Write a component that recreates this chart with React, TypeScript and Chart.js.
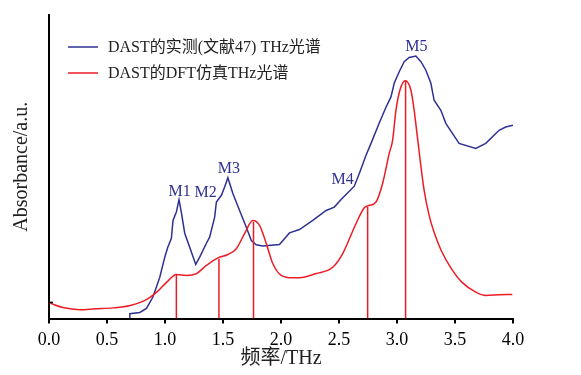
import React, { useEffect, useRef } from "react";
import { Chart, registerables } from "chart.js";

Chart.register(...registerables);

// Measured (literature 47) THz spectrum
const blueX = [0.697, 0.697, 0.783, 0.84, 0.895, 0.955, 0.998, 1.024, 1.055, 1.069, 1.098, 1.121, 1.142, 1.17, 1.213, 1.265, 1.299, 1.357, 1.385, 1.428, 1.443, 1.486, 1.514, 1.542, 1.585, 1.643, 1.701, 1.744, 1.787, 1.843, 1.987, 2.03, 2.073, 2.159, 2.274, 2.389, 2.46, 2.518, 2.632, 2.675, 2.733, 2.776, 2.847, 2.905, 2.948, 2.976, 3.019, 3.062, 3.105, 3.163, 3.206, 3.249, 3.292, 3.32, 3.378, 3.421, 3.478, 3.535, 3.679, 3.765, 3.88, 3.937, 4.0];
const blueY = [0, 1.6, 2.0, 3.3, 7.0, 13.6, 20.2, 23.5, 26.4, 32.3, 35.1, 39.2, 34.7, 28.1, 23.5, 17.8, 20.2, 24.8, 26.8, 33.4, 38.4, 40.6, 43.3, 46.4, 41.2, 35.6, 30.1, 25.7, 24.3, 23.9, 24.4, 26.3, 28.2, 29.3, 32.3, 35.6, 36.7, 39.2, 43.6, 47.8, 53.8, 57.7, 64.4, 69.6, 73.0, 77.5, 81.3, 84.6, 86.0, 86.5, 84.6, 81.8, 77.5, 71.9, 68.6, 64.3, 61.0, 57.7, 56.0, 57.7, 62.0, 63.1, 63.7];

// DFT simulated THz spectrum
const redX = [0, 0.04, 0.12, 0.265, 0.4, 0.55, 0.7, 0.843, 0.943, 1.015, 1.098, 1.185, 1.271, 1.357, 1.456, 1.542, 1.615, 1.686, 1.757, 1.815, 1.873, 1.929, 2.002, 2.101, 2.159, 2.303, 2.446, 2.532, 2.647, 2.718, 2.747, 2.819, 2.876, 2.933, 2.962, 2.991, 3.025, 3.071, 3.12, 3.148, 3.174, 3.2, 3.234, 3.277, 3.329, 3.381, 3.467, 3.561, 3.679, 3.765, 3.88, 3.994];
const redY = [5.3, 4.6, 3.6, 2.9, 3.2, 3.5, 4.3, 6.3, 9.2, 12.0, 14.5, 14.2, 14.8, 17.5, 20.0, 21.1, 23.0, 28.0, 32.3, 30.7, 24.7, 18.1, 14.2, 13.4, 13.4, 14.8, 16.9, 21.4, 31.3, 36.5, 37.1, 38.4, 44.5, 54.4, 58.7, 68.6, 75.2, 78.3, 75.2, 68.6, 60.4, 52.1, 42.2, 34.0, 27.4, 22.4, 16.5, 11.9, 8.7, 7.6, 7.8, 7.9];

// DFT stick modes
const stickX = [1.098, 1.465, 1.763, 2.747, 3.074];
const stickH = [14.5, 19.7, 31.8, 36.7, 78.3];

// Peak labels
const peakLabels = ["M1", "M2", "M3", "M4", "M5"];
const peakLabelX = [1.127, 1.35, 1.551, 2.532, 3.168];
const peakLabelY = [41.7, 41.5, 49.4, 45.8, 89.6];

const xTicks = [0, 0.5, 1, 1.5, 2, 2.5, 3, 3.5, 4];
const legendLabels = ["DAST的实测(文献47) THz光谱", "DAST的DFT仿真THz光谱"];

const BLUE = "#2e3192";
const RED = "#ed1c24";
const FONT = '"Liberation Serif", "Times New Roman", "Noto Sans CJK SC", serif';

export default function App() {
  const ref = useRef<HTMLCanvasElement | null>(null);
  useEffect(() => {
    if (!ref.current) return;
    const blueData = blueX.map((x, i) => ({ x, y: blueY[i] }));
    const redData = redX.map((x, i) => ({ x, y: redY[i] }));
    const stickData: any[] = [];
    stickX.forEach((x, i) => {
      stickData.push({ x, y: 0 });
      stickData.push({ x, y: stickH[i] });
      stickData.push({ x, y: null });
    });

    const overlay = {
      id: "overlay",
      afterDraw(chart: any) {
        const ctx = chart.ctx;
        const xs = chart.scales.x;
        const ys = chart.scales.y;
        const area = chart.chartArea;
        ctx.save();
        // small y tick
        ctx.strokeStyle = "#000";
        ctx.lineWidth = 1.5;
        const yt = ys.getPixelForValue(5.3);
        ctx.beginPath();
        ctx.moveTo(area.left, yt);
        ctx.lineTo(area.left + 4, yt);
        ctx.stroke();
        // peak labels
        ctx.fillStyle = BLUE;
        ctx.font = "16px " + FONT;
        ctx.textAlign = "center";
        ctx.textBaseline = "middle";
        peakLabels.forEach((t, i) => {
          ctx.fillText(t, xs.getPixelForValue(peakLabelX[i]), ys.getPixelForValue(peakLabelY[i]));
        });
        // legend
        const colors = [BLUE, RED];
        const lx = area.left + 19;
        const ly = [area.top + 32, area.top + 58];
        ctx.textAlign = "left";
        legendLabels.forEach((t, i) => {
          ctx.strokeStyle = colors[i];
          ctx.lineWidth = 1.5;
          ctx.beginPath();
          ctx.moveTo(lx, ly[i]);
          ctx.lineTo(lx + 30, ly[i]);
          ctx.stroke();
          ctx.fillStyle = "#222";
          ctx.fillText(t, lx + 40, ly[i] + 1);
        });
        ctx.restore();
      },
    };

    const chart = new Chart(ref.current, {
      type: "scatter",
      data: {
        datasets: [
          { data: stickData, showLine: true, borderColor: RED, borderWidth: 1.5, pointRadius: 0, spanGaps: false },
          { data: redData, showLine: true, borderColor: RED, borderWidth: 1.5, pointRadius: 0, tension: 0.4, cubicInterpolationMode: "monotone" },
          { data: blueData, showLine: true, borderColor: BLUE, borderWidth: 1.5, pointRadius: 0, tension: 0 },
        ],
      },
      options: {
        animation: false,
        responsive: false,
        layout: { padding: { top: 15, right: 68, bottom: 6, left: 12 } },
        plugins: { legend: { display: false }, tooltip: { enabled: false } },
        scales: {
          x: {
            type: "linear",
            min: 0,
            max: 4,
            afterBuildTicks: (s: any) => {
              s.ticks = xTicks.map((v) => ({ value: v }));
            },
            afterFit: (s: any) => {
              s.height = 50.5;
            },
            border: { display: true, color: "#000", width: 2 },
            grid: { display: true, drawOnChartArea: false, drawTicks: true, tickLength: 5, color: "#000", lineWidth: 2 },
            ticks: {
              color: "#000",
              padding: 8,
              maxRotation: 0,
              font: { family: FONT, size: 18, lineHeight: 1 },
              callback: (v: any) => Number(v).toFixed(1),
            },
            title: {
              display: true,
              text: "频率/THz",
              color: "#222",
              padding: { top: 0, bottom: 0 },
              font: { family: FONT, size: 20, lineHeight: 1 },
            },
          },
          y: {
            type: "linear",
            min: 0,
            max: 100,
            border: { display: true, color: "#000", width: 2 },
            grid: { display: false, drawTicks: false },
            ticks: { display: false },
            title: {
              display: true,
              text: "Absorbance/a.u.",
              color: "#222",
              padding: { top: 0, bottom: 17 },
              font: { family: FONT, size: 20, lineHeight: 1 },
            },
          },
        },
      },
      plugins: [overlay],
    } as any);
    return () => chart.destroy();
  }, []);

  return (
    <div style={{ position: "fixed", left: 0, top: 0, width: 581, height: 375, background: "#fff" }}>
      <canvas ref={ref} width={581} height={375} style={{ width: 581, height: 375 }} />
    </div>
  );
}
